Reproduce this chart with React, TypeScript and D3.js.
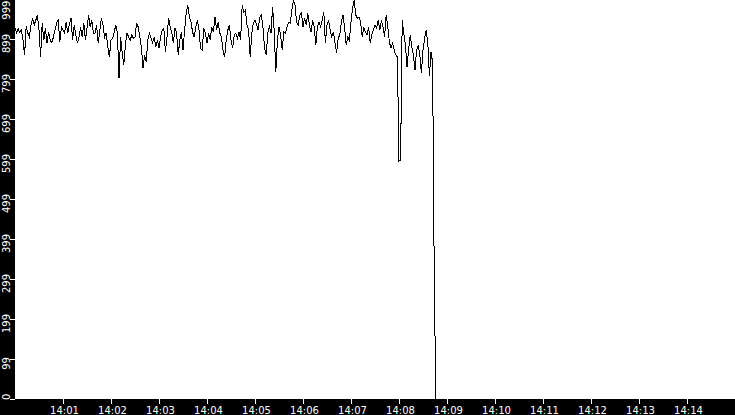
import React, { useEffect } from 'react';
import * as d3 from 'd3';

// one sample every 2 seconds, starting 14:00:00
const startTime = new Date(2024, 0, 1, 14, 0, 0);
const stepSeconds = 2;

const minute00 = [
  927, 915, 925, 917, 922, 897, 860, 932, 915, 905,
  935, 952, 935, 947, 960, 922, 855, 940, 897, 927,
  890, 917, 897, 890, 905, 922, 940, 947, 892, 930,
];
const minute01 = [
  922, 915, 942, 915, 937, 952, 897, 935, 910, 890,
  905, 930, 905, 940, 897, 927, 960, 930, 947, 915,
  915, 935, 890, 922, 952, 935, 905, 915, 880, 855,
];
const minute02 = [
  897, 902, 917, 935, 915, 802, 905, 865, 835, 885,
  915, 905, 897, 910, 902, 905, 940, 930, 905, 880,
  827, 860, 842, 897, 915, 902, 890, 905, 880, 897,
];
const minute03 = [
  877, 905, 922, 927, 867, 905, 952, 930, 915, 890,
  927, 915, 860, 897, 917, 872, 922, 965, 985, 955,
  942, 917, 905, 930, 947, 922, 877, 872, 927, 915,
];
const minute04 = [
  890, 915, 897, 930, 917, 955, 922, 942, 915, 905,
  872, 855, 897, 922, 935, 897, 877, 910, 915, 902,
  917, 897, 985, 967, 972, 935, 922, 855, 915, 940,
];
const minute05 = [
  947, 935, 922, 955, 960, 927, 877, 860, 915, 930,
  915, 980, 922, 817, 897, 930, 910, 872, 917, 915,
  930, 942, 940, 972, 997, 985, 942, 935, 960, 965,
];
const minute06 = [
  930, 952, 935, 965, 935, 917, 947, 930, 885, 930,
  942, 930, 947, 967, 890, 935, 947, 922, 905, 917,
  890, 865, 902, 910, 942, 960, 930, 885, 905, 897,
];
const minute07 = [
  942, 977, 997, 960, 952, 955, 942, 905, 930, 917,
  910, 930, 890, 910, 922, 935, 927, 947, 922, 947,
  930, 905, 960, 930, 892, 877, 890, 872, 860, 855,
];
const minute08 = [
  595, 597, 947, 915, 885, 830, 872, 910, 880, 860,
  822, 872, 885, 860, 815, 872, 902, 922, 890, 807,
  867, 842, 320, 0,
];

const yTicks = [0, 99, 199, 299, 399, 499, 599, 699, 799, 899, 999];
const xTickMinutes = [1, 2, 3, 4, 5, 6, 7, 8, 9, 10, 11, 12, 13, 14];

const width = 735;
const height = 415;
const margin = { left: 15, bottom: 16 };
const fontFamily = "'DejaVu Sans', sans-serif";

export default function App() {
  useEffect(() => {
    document.body.style.margin = '0';
  }, []);

  const values = [
    ...minute00, ...minute01, ...minute02, ...minute03, ...minute04,
    ...minute05, ...minute06, ...minute07, ...minute08,
  ];
  const points = values.map((v, i) => ({
    t: new Date(startTime.getTime() + i * stepSeconds * 1000),
    v,
  }));

  const plotBottom = height - margin.bottom; // 399

  const x = d3.scaleTime()
    .domain([startTime, d3.timeMinute.offset(startTime, 15)])
    .range([margin.left, width]);

  const y = d3.scaleLinear()
    .domain([0, 1000])
    .range([plotBottom, -1]);

  const line = d3.line<{ t: Date; v: number }>()
    .x(d => x(d.t))
    .y(d => y(d.v));

  const fmt = d3.timeFormat('%H:%M');

  return (
    <svg width={width} height={height} style={{ display: 'block' }}>
      <rect x={0} y={0} width={width} height={height} fill="#000" />
      <rect x={margin.left} y={0} width={width - margin.left} height={plotBottom} fill="#fff" />

      <path d={line(points) || ''} fill="none" stroke="#000" strokeWidth={1} shapeRendering="crispEdges" />

      {/* y axis */}
      {yTicks.map(t => {
        const ty = Math.round(y(t)) + 0.5;
        const label = String(t);
        const half = (label.length * 6.4) / 2;
        // keep labels inside the plot height
        const cy = Math.max(half + 0.5, Math.min(ty + 4, 400 - half));
        return (
          <g key={t}>
            <line x1={10} x2={15} y1={ty} y2={ty} stroke="#fff" strokeWidth={1} shapeRendering="crispEdges" />
            <text
              transform={`translate(10,${cy}) rotate(-90)`}
              textAnchor="middle"
              fill="#fff"
              fontFamily={fontFamily}
              fontSize={10}
            >
              {label}
            </text>
          </g>
        );
      })}

      {/* x axis */}
      {xTickMinutes.map(m => {
        const t = d3.timeMinute.offset(startTime, m);
        const tx = Math.round(x(t)) + 0.5;
        return (
          <g key={m}>
            <line x1={tx} x2={tx} y1={plotBottom} y2={plotBottom + 5} stroke="#fff" strokeWidth={1} shapeRendering="crispEdges" />
            <text
              x={tx + 1}
              y={414}
              textAnchor="middle"
              fill="#fff"
              fontFamily={fontFamily}
              fontSize={10}
            >
              {fmt(t)}
            </text>
          </g>
        );
      })}
    </svg>
  );
}
